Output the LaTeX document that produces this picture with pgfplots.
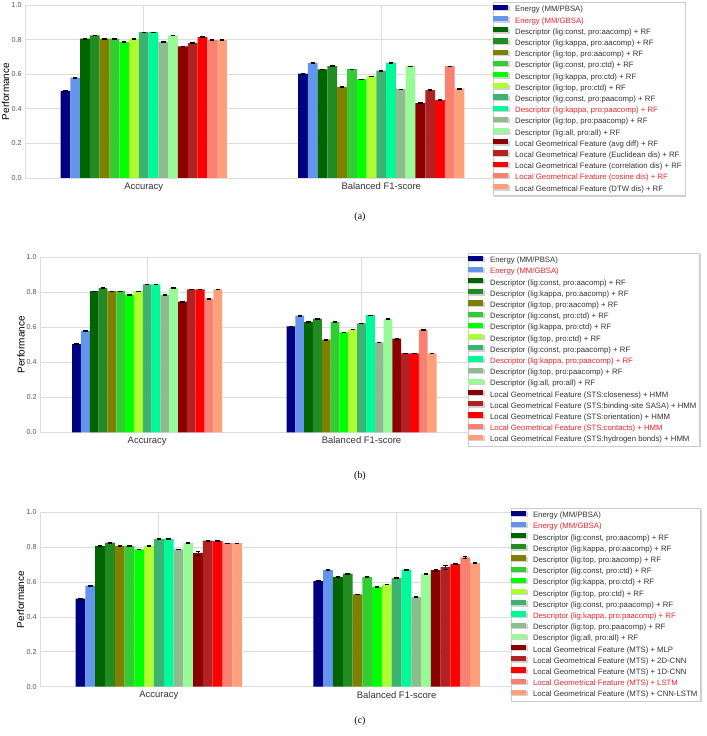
\documentclass[border=0pt]{standalone}
\usepackage{fontspec}
\setmainfont{Liberation Sans}
\newfontfamily\capfont{Liberation Serif}
\usepackage{pgfplots}
\usepackage{pgfplotstable}
\pgfplotsset{compat=1.18}
\usetikzlibrary{shadows}

% bar colours (matplotlib named colours)
\definecolor{c1}{HTML}{000080}
\definecolor{c2}{HTML}{6495ED}
\definecolor{c3}{HTML}{006400}
\definecolor{c4}{HTML}{228B22}
\definecolor{c5}{HTML}{808000}
\definecolor{c6}{HTML}{32CD32}
\definecolor{c7}{HTML}{00FF00}
\definecolor{c8}{HTML}{ADFF2F}
\definecolor{c9}{HTML}{3CB371}
\definecolor{c10}{HTML}{00FA9A}
\definecolor{c11}{HTML}{8FBC8F}
\definecolor{c12}{HTML}{98FB98}
\definecolor{c13}{HTML}{8B0000}
\definecolor{c14}{HTML}{B22222}
\definecolor{c15}{HTML}{FF0000}
\definecolor{c16}{HTML}{FA8072}
\definecolor{c17}{HTML}{FFA07A}
\definecolor{gridc}{HTML}{DDDDDD}
\definecolor{txt}{HTML}{333333}
\definecolor{tickc}{HTML}{555555}
\definecolor{hl}{HTML}{E8262B}

% rows: x = 0 (Accuracy), 1 (Balanced F1-score); v = value, e = error
\pgfplotstableread{
x v1 v2 v3 v4 v5 v6 v7 v8 v9 v10 v11 v12 v13 v14 v15 v16 v17 e1 e2 e3 e4 e5 e6 e7 e8 e9 e10 e11 e12 e13 e14 e15 e16 e17
0 0.504 0.580 0.806 0.825 0.806 0.806 0.786 0.806 0.843 0.843 0.786 0.825 0.761 0.780 0.815 0.797 0.797 0.002 0.002 0.002 0.002 0.002 0.002 0.002 0.002 0.002 0.002 0.002 0.002 0.002 0.002 0.002 0.002 0.002
1 0.604 0.665 0.628 0.647 0.527 0.629 0.571 0.587 0.621 0.667 0.513 0.646 0.433 0.508 0.450 0.646 0.517 0.002 0.002 0.002 0.002 0.002 0.002 0.002 0.002 0.002 0.002 0.002 0.002 0.002 0.002 0.002 0.002 0.002
}\dataA
\pgfplotstableread{
x v1 v2 v3 v4 v5 v6 v7 v8 v9 v10 v11 v12 v13 v14 v15 v16 v17 e1 e2 e3 e4 e5 e6 e7 e8 e9 e10 e11 e12 e13 e14 e15 e16 e17
0 0.504 0.580 0.806 0.825 0.806 0.806 0.786 0.806 0.845 0.845 0.786 0.825 0.747 0.817 0.817 0.764 0.817 0.002 0.002 0.002 0.002 0.002 0.002 0.002 0.002 0.002 0.002 0.002 0.002 0.002 0.002 0.002 0.002 0.002
1 0.605 0.667 0.630 0.649 0.529 0.631 0.571 0.588 0.622 0.669 0.514 0.650 0.535 0.451 0.451 0.587 0.451 0.002 0.002 0.002 0.002 0.002 0.002 0.002 0.002 0.002 0.002 0.002 0.002 0.002 0.002 0.002 0.002 0.002
}\dataB
\pgfplotstableread{
x v1 v2 v3 v4 v5 v6 v7 v8 v9 v10 v11 v12 v13 v14 v15 v16 v17 e1 e2 e3 e4 e5 e6 e7 e8 e9 e10 e11 e12 e13 e14 e15 e16 e17
0 0.505 0.580 0.807 0.826 0.807 0.807 0.788 0.807 0.847 0.847 0.788 0.826 0.767 0.838 0.835 0.823 0.823 0.002 0.002 0.002 0.002 0.002 0.002 0.002 0.002 0.002 0.002 0.002 0.002 0.012 0.003 0.002 0.002 0.002
1 0.606 0.669 0.630 0.649 0.529 0.630 0.572 0.587 0.624 0.671 0.515 0.649 0.668 0.685 0.703 0.741 0.708 0.002 0.002 0.002 0.002 0.002 0.002 0.002 0.002 0.002 0.002 0.002 0.002 0.008 0.010 0.003 0.004 0.003
}\dataC

\newcommand\bars[1]{%
  \pgfplotsinvokeforeach{1,...,17}{%
    \addplot[fill=c##1, draw=none,
      error bars/.cd, y dir=both, y explicit,
      error bar style={black, line width=0.6bp},
      error mark options={black, rotate=90, mark size=2.2bp, line width=0.6bp}]
      table[x=x, y=v##1, y error=e##1] {#1};
  }%
}

\pgfplotsset{
  perf/.style={
    scale only axis,
    anchor=south west,
    ybar=0pt,
    bar width=0.041176,
    xmin=-0.5, xmax=1.5, ymin=0, ymax=1,
    xtick={0,1}, xticklabels={Accuracy, Balanced F1-score},
    ytick={0,0.2,0.4,0.6,0.8,1},
    yticklabel style={font=\fontsize{7.2}{8}\selectfont, text=tickc, inner xsep=3.3bp,
      /pgf/number format/.cd, fixed, fixed zerofill, precision=1, assume math mode=true},
    xticklabel style={font=\fontsize{9.5}{11}\selectfont, text=txt, inner ysep=4.3bp},
    major tick length=0pt,
    tick style={draw=none},
    grid=major,
    major grid style={gridc, line width=0.8bp},
    axis line style={gridc, line width=0.8bp},
    ylabel={Performance},
    label style={font=\fontsize{9.5}{11}\selectfont, text=txt},
    legend style={
      anchor=north west,
      font=\fontsize{7.8}{9}\selectfont, text=txt,
      draw=black!20, fill=white,
      drop shadow={shadow xshift=1.3bp, shadow yshift=-1.3bp, opacity=0.35},
      inner xsep=0pt, inner ysep=2.6bp, row sep=2.5bp, column sep=3.5bp,
      nodes={inner xsep=3.3bp, inner ysep=0pt, text height=5.8bp, text depth=1.6bp},
      cells={anchor=west},
    },
    legend image code/.code={\fill[##1] (0bp,-0.2bp) rectangle (15.3bp,5.0bp);},
  },
}

\begin{document}
\begin{tikzpicture}
\useasboundingbox (0,0) rectangle (707bp,736bp);

% (a)
\begin{axis}[perf,
  at={(25bp,558bp)}, width=475bp, height=173bp,
  every axis y label/.style={at={(axis description cs:-0.041,0.5)}, rotate=90, anchor=center},
  legend style={at={(axis description cs:0.985,1.017)}},
  legend entries={
    {Energy (MM/PBSA)},
    {\textcolor{hl}{Energy (MM/GBSA)}},
    {Descriptor (lig:const, pro:aacomp) + RF},
    {Descriptor (lig:kappa, pro:aacomp) + RF},
    {Descriptor (lig:top, pro:aacomp) + RF},
    {Descriptor (lig:const, pro:ctd) + RF},
    {Descriptor (lig:kappa, pro:ctd) + RF},
    {Descriptor (lig:top, pro:ctd) + RF},
    {Descriptor (lig:const, pro:paacomp) + RF},
    {\textcolor{hl}{Descriptor (lig:kappa, pro:paacomp) + RF}},
    {Descriptor (lig:top, pro:paacomp) + RF},
    {Descriptor (lig:all, pro:all) + RF},
    {Local Geometrical Feature (avg diff) + RF},
    {Local Geometrical Feature (Euclidean dis) + RF},
    {Local Geometrical Feature (correlation dis) + RF},
    {\textcolor{hl}{Local Geometrical Feature (cosine dis) + RF}},
    {Local Geometrical Feature (DTW dis) + RF}},
]
\bars{\dataA}
\end{axis}

% (b)
\begin{axis}[perf,
  at={(40bp,303.7bp)}, width=428.7bp, height=175bp,
  every axis y label/.style={at={(axis description cs:-0.044,0.5)}, rotate=90, anchor=center},
  legend style={at={(axis description cs:0.998,1.026)}},
  legend entries={
    {Energy (MM/PBSA)},
    {\textcolor{hl}{Energy (MM/GBSA)}},
    {Descriptor (lig:const, pro:aacomp) + RF},
    {Descriptor (lig:kappa, pro:aacomp) + RF},
    {Descriptor (lig:top, pro:aacomp) + RF},
    {Descriptor (lig:const, pro:ctd) + RF},
    {Descriptor (lig:kappa, pro:ctd) + RF},
    {Descriptor (lig:top, pro:ctd) + RF},
    {Descriptor (lig:const, pro:paacomp) + RF},
    {\textcolor{hl}{Descriptor (lig:kappa, pro:paacomp) + RF}},
    {Descriptor (lig:top, pro:paacomp) + RF},
    {Descriptor (lig:all, pro:all) + RF},
    {Local Geometrical Feature (STS:closeness) + HMM},
    {Local Geometrical Feature (STS:binding-site SASA) + HMM},
    {Local Geometrical Feature (STS:orientation) + HMM},
    {\textcolor{hl}{Local Geometrical Feature (STS:contacts) + HMM}},
    {Local Geometrical Feature (STS:hydrogen bonds) + HMM}},
]
\bars{\dataB}
\end{axis}

% (c)
\begin{axis}[perf,
  at={(40bp,49.3bp)}, width=475.5bp, height=174.4bp,
  every axis y label/.style={at={(axis description cs:-0.041,0.5)}, rotate=90, anchor=center},
  legend style={at={(axis description cs:0.990,1.026)}},
  legend entries={
    {Energy (MM/PBSA)},
    {\textcolor{hl}{Energy (MM/GBSA)}},
    {Descriptor (lig:const, pro:aacomp) + RF},
    {Descriptor (lig:kappa, pro:aacomp) + RF},
    {Descriptor (lig:top, pro:aacomp) + RF},
    {Descriptor (lig:const, pro:ctd) + RF},
    {Descriptor (lig:kappa, pro:ctd) + RF},
    {Descriptor (lig:top, pro:ctd) + RF},
    {Descriptor (lig:const, pro:paacomp) + RF},
    {\textcolor{hl}{Descriptor (lig:kappa, pro:paacomp) + RF}},
    {Descriptor (lig:top, pro:paacomp) + RF},
    {Descriptor (lig:all, pro:all) + RF},
    {Local Geometrical Feature (MTS) + MLP},
    {Local Geometrical Feature (MTS) + 2D-CNN},
    {Local Geometrical Feature (MTS) + 1D-CNN},
    {\textcolor{hl}{Local Geometrical Feature (MTS) + LSTM}},
    {Local Geometrical Feature (MTS) + CNN-LSTM}},
]
\bars{\dataC}
\end{axis}

\node[font=\capfont\fontsize{10}{12}\selectfont] at (360bp,519bp) {(a)};
\node[font=\capfont\fontsize{10}{12}\selectfont] at (360bp,260bp) {(b)};
\node[font=\capfont\fontsize{10}{12}\selectfont] at (360bp,14.5bp) {(c)};
\end{tikzpicture}
\end{document}
